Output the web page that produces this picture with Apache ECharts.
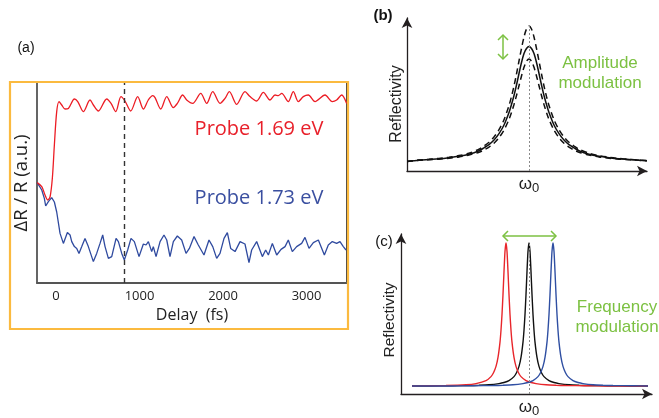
<!DOCTYPE html>
<html>
<head>
<meta charset="utf-8">
<script src="https://cdn.jsdelivr.net/npm/echarts@6/dist/echarts.min.js"></script>
<style>
  html, body { margin: 0; padding: 0; background: #fff; }
  #chart { width: 659px; height: 418px; }
</style>
</head>
<body>
<div id="chart"></div>
<script>
// panel (a): pump-probe traces, delay in fs, signal in arbitrary units
const redT = [-226, -171, -132, -100, -72, -44, -20, 8, 36, 68, 108, 148, 220, 260, 327, 407, 447, 507, 607, 659,
  715, 778, 826, 894, 978, 1046, 1105, 1158, 1186, 1254, 1326, 1405, 1453, 1517, 1565, 1637, 1733, 1805, 1877, 1964,
  2024, 2076, 2164, 2263, 2323, 2403, 2483, 2563, 2623, 2662, 2703, 2782, 2842, 2902, 2962, 3022, 3102, 3222, 3309,
  3361, 3421, 3481];
const redV = [50.2, 48.2, 44, 41.5, 43, 52.5, 69, 85.7, 90.7, 89, 87, 87.3, 92, 90.7, 85.7, 91.5, 89, 86, 92, 89.8,
  85.7, 93.2, 91, 86, 93.2, 87, 91.5, 93.7, 92.7, 87, 93.2, 87.7, 89.8, 94, 91.5, 89.8, 94.8, 89.8, 95.7, 89.8,
  92.3, 95.7, 89.3, 95.7, 93.2, 91, 95.3, 91.5, 94, 93.7, 94.8, 90.7, 95.7, 90.7, 93.2, 94, 90.7, 94, 90.7,
  91.5, 94, 89.8];

const blueT = [-226, -171, -140, -124, -92, -52, -20, 8, 48, 88, 136, 168, 188, 220, 248, 275, 308, 347, 387, 447,
  487, 527, 559, 587, 627, 667, 719, 747, 787, 818, 858, 898, 938, 994, 1046, 1078, 1106, 1146, 1165, 1198,
  1246, 1293, 1326, 1365, 1405, 1453, 1505, 1557, 1597, 1653, 1704, 1725, 1772, 1832, 1877, 1924, 1964, 2012,
  2052, 2092, 2144, 2204, 2263, 2311, 2343, 2403, 2471, 2511, 2543, 2591, 2643, 2695, 2743, 2782, 2830, 2882,
  2942, 2982, 3030, 3082, 3142, 3214, 3261, 3309, 3361, 3401, 3441, 3473];
const blueV = [50.2, 46.5, 42.3, 38.5, 40.7, 42.7, 40.5, 35.5, 24.8, 19.8, 25.2, 24, 20.7, 18.2, 17.3, 14.8, 18.2,
  22.3, 18.2, 10.7, 14.8, 19.8, 24, 18.2, 12.3, 13.2, 22.3, 20.7, 14.8, 11.5, 16.5, 22.3, 20.7, 13.2, 19.5, 19,
  20.7, 15.7, 18.2, 13.2, 20.7, 24, 21.5, 13.2, 20.7, 23.5, 21.5, 14.8, 17.3, 23.2, 19, 18.2, 14, 21.5, 18.2,
  12.3, 14.8, 22.3, 25.2, 17.3, 15.7, 20.7, 19.5, 10.2, 16.5, 20.7, 13.2, 16.5, 14, 19.8, 14, 16.8, 18.2, 21.5,
  15.7, 18.2, 19.8, 22.8, 17.3, 20.2, 21.5, 14, 19, 20.7, 19.8, 20.7, 18.2, 16.5];

const delayMark = 814;
const delayTicks = [0, 1000, 2000, 3000];

// panel (b): amplitude modulation, frequency offset from w0
const bX = [-12.2, -11, -10, -9, -8, -7, -6, -5, -4.5, -4, -3.5, -3, -2.5, -2, -1.75, -1.5, -1.25, -1, -0.75, -0.5, -0.25,
  0, 0.25, 0.5, 0.75, 1, 1.25, 1.5, 1.75, 2, 2.5, 3, 3.5, 4, 4.5, 5, 6, 7, 8, 9, 10, 11, 11.8];
const bSolid = [9.5, 10.8, 11.5, 12.2, 13.3, 14.7, 16.8, 20.3, 23.2, 26.4, 30.9, 37.3, 46, 58.5, 66.5, 75.5, 86, 97.5, 108.5, 117.5, 122.5,
  124.5, 122.5, 117.5, 108.5, 97.5, 86, 75.5, 66.5, 58.5, 46, 37.3, 30.9, 26.4, 23.2, 20.3, 16.8, 14.7, 13.3, 12.2, 11.5, 10.8, 10.3];
const bHigh = [9.5, 10.9, 11.7, 12.6, 13.8, 15.4, 17.8, 21.8, 25, 28.8, 34, 41.3, 51.3, 65.5, 74.5, 85, 97, 110, 122.5, 134, 142,
  145, 142, 134, 122.5, 110, 97, 85, 74.5, 65.5, 51.3, 41.3, 34, 28.8, 25, 21.8, 17.8, 15.4, 13.8, 12.6, 11.7, 10.9, 10.4];
const bLow = [9.5, 10.7, 11.3, 11.8, 12.8, 14, 16, 18.8, 21, 23.9, 27.8, 33.3, 40.9, 51.6, 58.5, 66.5, 75.5, 85.3, 95, 103.7, 109.8,
  112, 109.8, 103.7, 95, 85.3, 75.5, 66.5, 58.5, 51.6, 40.9, 33.3, 27.8, 23.9, 21, 18.8, 16, 14, 12.8, 11.8, 11.3, 10.7, 10.2];

// panel (c): frequency modulation
const cRedX = [-11.7, -10.3, -8.3, -6.3, -5.3, -4.3, -3.8, -3.55, -3.3, -3.1, -2.9, -2.8, -2.7, -2.6, -2.5, -2.4,
  -2.3, -2.2, -2.1, -2.0, -1.9, -1.8, -1.7, -1.5, -1.3, -1.05, -0.8, -0.3, 0.2, 0.7, 1.7, 2.7, 3.7, 5.7, 7.7, 9.7, 11.9];
const cRedY = [8.2, 8.4, 8.6, 9.4, 10.6, 13.6, 17.7, 21.6, 28.1, 37.2, 52.9, 65, 81, 101.4, 124.8, 145.4,
  154, 145.4, 124.8, 101.4, 81, 65, 52.9, 37.2, 28.1, 21.6, 17.7, 13.6, 11.7, 10.6, 9.4, 8.9, 8.6, 8.4, 8.2, 8.2, 8.1];
const cBlackX = [-11.7, -10, -8, -6, -5, -4, -3, -2.5, -2, -1.5, -1.25, -1, -0.8, -0.6, -0.5, -0.4, -0.3, -0.2, -0.1,
  0, 0.1, 0.2, 0.3, 0.4, 0.5, 0.6, 0.8, 1, 1.25, 1.5, 2, 2.5, 3, 4, 5, 6, 8, 10, 11.9];
const cBlackY = [8.2, 8.2, 8.4, 8.6, 8.9, 9.4, 10.6, 11.7, 13.6, 17.7, 21.6, 28.1, 37.2, 52.9, 65, 81, 101.4, 124.8, 145.4,
  154, 145.4, 124.8, 101.4, 81, 65, 52.9, 37.2, 28.1, 21.6, 17.7, 13.6, 11.7, 10.6, 9.4, 8.9, 8.6, 8.4, 8.2, 8.2];
const cBlueX = [-11.7, -9.6, -7.6, -5.6, -3.6, -2.6, -1.6, -0.6, -0.1, 0.4, 0.9, 1.15, 1.4, 1.6, 1.8, 1.9, 2.0, 2.1, 2.2, 2.3,
  2.4, 2.5, 2.6, 2.7, 2.8, 2.9, 3.0, 3.2, 3.4, 3.65, 3.9, 4.4, 4.9, 5.4, 6.4, 7.4, 8.4, 10.4, 11.9];
const cBlueY = [8.1, 8.2, 8.2, 8.4, 8.6, 8.9, 9.4, 10.6, 11.7, 13.6, 17.7, 21.6, 28.1, 37.2, 52.9, 65, 81, 101.4, 124.8, 145.4,
  154, 145.4, 124.8, 101.4, 81, 65, 52.9, 37.2, 28.1, 21.6, 17.7, 13.6, 11.7, 10.6, 9.4, 8.9, 8.6, 8.4, 8.2];

const zip = (xs, ys) => xs.map((x, i) => [x, ys[i]]);

const green = '#7CC142';
const axisDark = '#231F20';
const helv = 'Liberation Sans';

const omegaLabel = {
  show: true,
  customValues: [0],
  margin: 3,
  formatter: () => '{w|ω}{s|0}',
  rich: {
    w: { fontSize: 17, fontFamily: helv, color: '#222' },
    s: { fontSize: 13, fontFamily: helv, color: '#222', padding: [8, 0, 0, 0] }
  }
};
const dotted = (top) => ({
  symbol: 'none', silent: true, label: { show: false },
  lineStyle: { type: [2, 2], color: '#8a8a8a', width: 1 },
  data: [[{ coord: [0, 0] }, { coord: [0, top] }]]
});
const arrowLine = { show: true, onZero: false, symbol: ['none', 'arrow'], symbolSize: [8, 10], lineStyle: { color: axisDark, width: 1.3 } };

const chart = echarts.init(document.getElementById('chart'));
chart.setOption({
  animation: false,
  backgroundColor: '#fff',
  grid: [
    { left: 37, right: 312, top: 83, bottom: 135 },
    { left: 407, right: 12, top: 18, bottom: 247 },
    { left: 401, right: 7, top: 234, bottom: 21 }
  ],
  xAxis: [
    {
      gridIndex: 0, type: 'value', min: -228, max: 3485,
      axisLine: { show: true, onZero: false, lineStyle: { color: '#555', width: 1.8 } },
      axisTick: { show: false }, splitLine: { show: false },
      axisLabel: { customValues: delayTicks, formatter: (v) => String(v), margin: 7, fontSize: 13, fontFamily: 'Open Sans', color: '#222' },
      name: 'Delay  (fs)', nameLocation: 'middle', nameGap: 24,
      nameTextStyle: { fontSize: 16, fontFamily: 'Open Sans', color: '#222' }
    },
    {
      gridIndex: 1, type: 'value', min: -12.2, max: 11.8, axisLine: arrowLine,
      axisTick: { show: false }, splitLine: { show: false }, axisLabel: omegaLabel
    },
    {
      gridIndex: 2, type: 'value', min: -12.8, max: 12.3, axisLine: arrowLine,
      axisTick: { show: false }, splitLine: { show: false }, axisLabel: omegaLabel
    }
  ],
  yAxis: [
    {
      gridIndex: 0, type: 'value', min: 0, max: 100,
      axisLine: { show: true, onZero: false, lineStyle: { color: '#555', width: 1.8 } },
      axisTick: { show: false }, axisLabel: { show: false }, splitLine: { show: false },
      name: 'ΔR / R (a.u.)', nameLocation: 'middle', nameGap: 6, nameRotate: 90,
      nameTextStyle: { fontSize: 18.5, fontFamily: 'Open Sans', color: '#222' }
    },
    {
      gridIndex: 0, type: 'value', min: 0, max: 100, position: 'right',
      axisLine: { show: true, onZero: false, lineStyle: { color: '#333', width: 1.8 } },
      axisTick: { show: false }, axisLabel: { show: false }, splitLine: { show: false }
    },
    {
      gridIndex: 1, type: 'value', min: 0, max: 153, axisLine: arrowLine,
      axisTick: { show: false }, axisLabel: { show: false }, splitLine: { show: false }
    },
    {
      gridIndex: 2, type: 'value', min: 0, max: 163, axisLine: arrowLine,
      axisTick: { show: false }, axisLabel: { show: false }, splitLine: { show: false }
    }
  ],
  series: [
    {
      type: 'line', xAxisIndex: 0, yAxisIndex: 0, data: zip(blueT, blueV), showSymbol: false,
      lineStyle: { color: '#2F4A9F', width: 1.3 },
      markLine: {
        symbol: 'none', silent: true, label: { show: false },
        lineStyle: { type: [5, 4], color: '#333', width: 1.4 },
        data: [{ xAxis: delayMark }]
      }
    },
    {
      type: 'line', xAxisIndex: 0, yAxisIndex: 0, data: zip(redT, redV), showSymbol: false, smooth: 0.3,
      lineStyle: { color: '#EC1C24', width: 1.3 }
    },
    {
      type: 'line', xAxisIndex: 1, yAxisIndex: 2, data: zip(bX, bSolid), showSymbol: false, smooth: 0.3,
      lineStyle: { color: '#111', width: 1.5 }, markLine: dotted(146)
    },
    {
      type: 'line', xAxisIndex: 1, yAxisIndex: 2, data: zip(bX, bHigh), showSymbol: false, smooth: 0.3,
      lineStyle: { color: '#111', width: 1.5, type: [6, 4] }
    },
    {
      type: 'line', xAxisIndex: 1, yAxisIndex: 2, data: zip(bX, bLow), showSymbol: false, smooth: 0.3,
      lineStyle: { color: '#111', width: 1.5, type: [6, 4] }
    },
    {
      type: 'line', xAxisIndex: 2, yAxisIndex: 3, data: zip(cBlackX, cBlackY), showSymbol: false, smooth: 0.2,
      lineStyle: { color: '#111', width: 1.4 }, markLine: dotted(154)
    },
    {
      type: 'line', xAxisIndex: 2, yAxisIndex: 3, data: zip(cRedX, cRedY), showSymbol: false, smooth: 0.2,
      lineStyle: { color: '#E8262B', width: 1.4 }
    },
    {
      type: 'line', xAxisIndex: 2, yAxisIndex: 3, data: zip(cBlueX, cBlueY), showSymbol: false, smooth: 0.2,
      lineStyle: { color: '#2F4FA2', width: 1.4 }
    }
  ],
  graphic: [
    { type: 'rect', shape: { x: 10, y: 82, width: 338, height: 247 }, style: { fill: 'none', stroke: '#FBBA3F', lineWidth: 2.2 }, z: 10 },
    { type: 'text', x: 26, y: 48, style: { text: '(a)', font: '14px "Liberation Sans"', fill: '#111', align: 'center', verticalAlign: 'middle' } },
    { type: 'text', x: 383, y: 16, style: { text: '(b)', font: 'bold 15px "Liberation Sans"', fill: '#111', align: 'center', verticalAlign: 'middle' } },
    { type: 'text', x: 384, y: 242, style: { text: '(c)', font: '15px "Liberation Sans"', fill: '#111', align: 'center', verticalAlign: 'middle' } },
    { type: 'text', x: 259, y: 129, style: { text: 'Probe 1.69 eV', font: '20px "Open Sans"', fill: '#E8202A', align: 'center', verticalAlign: 'middle' } },
    { type: 'text', x: 259, y: 198, style: { text: 'Probe 1.73 eV', font: '20px "Open Sans"', fill: '#3A4FA0', align: 'center', verticalAlign: 'middle' } },
    { type: 'text', x: 397, y: 104, rotation: Math.PI / 2, style: { text: 'Reflectivity', font: '16px "Liberation Sans"', fill: '#222', align: 'center', verticalAlign: 'middle' } },
    { type: 'text', x: 390, y: 320, rotation: Math.PI / 2, style: { text: 'Reflectivity', font: '15.5px "Liberation Sans"', fill: '#222', align: 'center', verticalAlign: 'middle' } },
    { type: 'text', x: 600, y: 63, style: { text: 'Amplitude', font: '17px "Liberation Sans"', fill: green, align: 'center', verticalAlign: 'middle' } },
    { type: 'text', x: 600, y: 83, style: { text: 'modulation', font: '17px "Liberation Sans"', fill: green, align: 'center', verticalAlign: 'middle' } },
    { type: 'text', x: 617, y: 307, style: { text: 'Frequency', font: '17px "Liberation Sans"', fill: green, align: 'center', verticalAlign: 'middle' } },
    { type: 'text', x: 617, y: 327, style: { text: 'modulation', font: '17px "Liberation Sans"', fill: green, align: 'center', verticalAlign: 'middle' } },
    { type: 'polyline', shape: { points: [[503, 35], [503, 59]] }, style: { stroke: green, lineWidth: 1.5, fill: 'none' } },
    { type: 'polyline', shape: { points: [[498, 40], [503, 35], [508, 40]] }, style: { stroke: green, lineWidth: 1.5, fill: 'none' } },
    { type: 'polyline', shape: { points: [[498, 54], [503, 59], [508, 54]] }, style: { stroke: green, lineWidth: 1.5, fill: 'none' } },
    { type: 'polyline', shape: { points: [[503, 236], [556, 236]] }, style: { stroke: green, lineWidth: 1.5, fill: 'none' } },
    { type: 'polyline', shape: { points: [[508, 231], [503, 236], [508, 241]] }, style: { stroke: green, lineWidth: 1.5, fill: 'none' } },
    { type: 'polyline', shape: { points: [[551, 231], [556, 236], [551, 241]] }, style: { stroke: green, lineWidth: 1.5, fill: 'none' } }
  ]
});
</script>
</body>
</html>
